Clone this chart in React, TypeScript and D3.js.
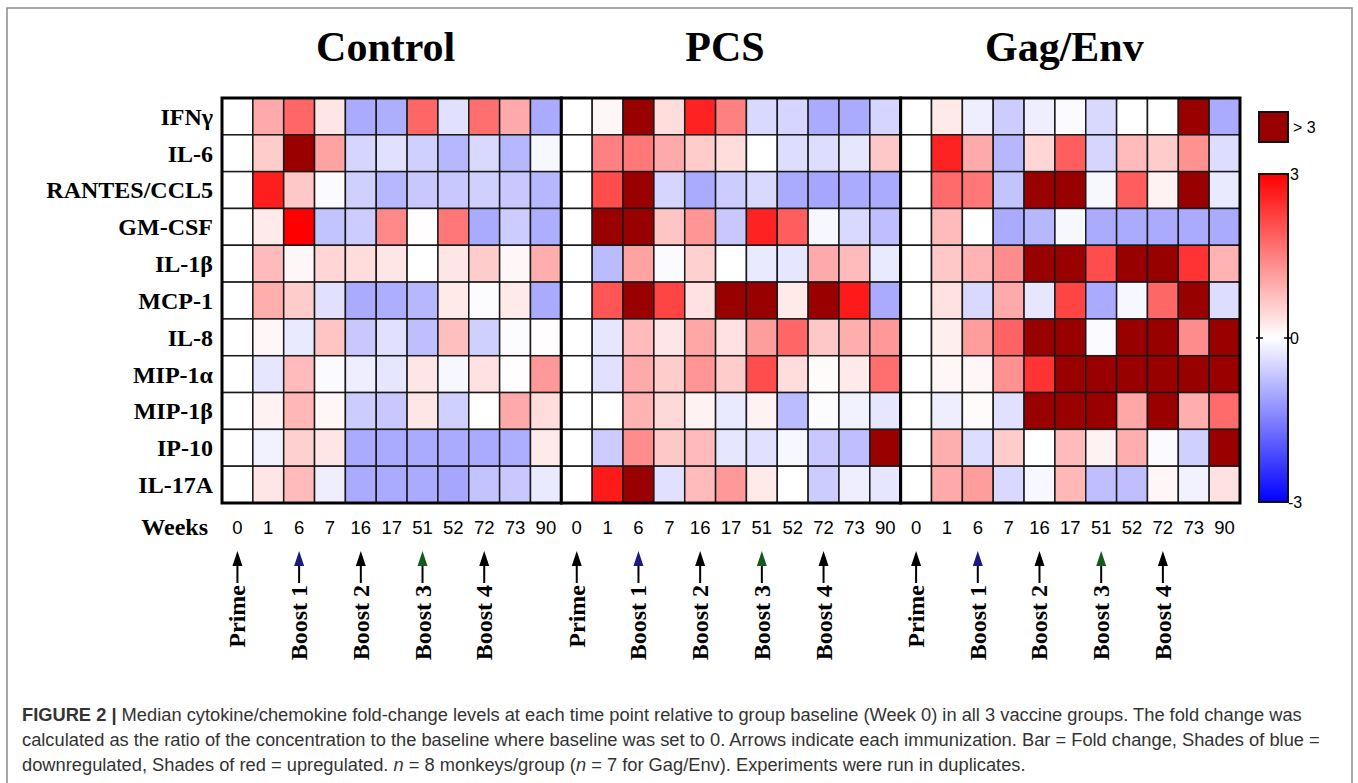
import { useEffect, useRef } from "react";
import * as d3 from "d3";

const groups = ["Control", "PCS", "Gag/Env"];
const weeks = ["0", "1", "6", "7", "16", "17", "51", "52", "72", "73", "90"];
const cytokines = ["IFNγ", "IL-6", "RANTES/CCL5", "GM-CSF", "IL-1β", "MCP-1", "IL-8", "MIP-1α", "MIP-1β", "IP-10", "IL-17A"];

// fold change, 4 = "> 3"
const controlValues = [
  [0, 1.0, 1.8, 0.3, -1.0, -0.95, 1.8, -0.35, 1.7, 1.0, -1.0],
  [0, 0.6, 4, 1.1, -0.5, -0.35, -0.55, -0.85, -0.45, -0.85, -0.1],
  [0, 2.65, 0.65, -0.05, -0.55, -0.85, -0.65, -0.65, -0.55, -0.65, -0.85],
  [0, 0.25, 3.0, -0.7, -0.6, 1.4, 0.02, 1.6, -1.0, -0.6, -0.95],
  [0, 0.8, 0.1, 0.5, 0.4, 0.3, 0, 0.3, 0.6, 0.1, 0.95],
  [0, 0.95, 0.6, -0.35, -1.0, -0.95, -0.85, 0.25, -0.03, 0.25, -1.0],
  [0, 0.1, -0.25, 0.7, -0.65, -0.35, -0.75, 0.75, -0.55, -0.03, 0.02],
  [0, -0.3, 0.8, -0.05, -0.2, -0.3, 0.3, -0.1, 0.35, 0.02, 1.2],
  [0, 0.15, 0.85, 0.1, -0.6, -0.65, 0.3, -0.55, 0, 1.0, 0.4],
  [0, -0.15, 0.55, 0.3, -1.0, -1.0, -1.0, -1.0, -1.0, -0.95, 0.25],
  [0, 0.3, 0.8, -0.2, -1.0, -1.0, -1.0, -1.05, -0.7, -0.65, -0.25],
];

const pcsValues = [
  [0, 0.1, 4, 0.4, 2.6, 1.5, -0.45, -0.5, -1.0, -1.0, -0.5],
  [0, 1.5, 1.6, 1.0, 0.6, 0.4, 0, -0.4, -0.4, -0.3, 0.65],
  [0, 2.1, 4, -0.5, -1.0, -0.6, -0.45, -1.0, -1.05, -1.0, -1.0],
  [0, 4, 4, 0.7, 1.25, -0.65, 2.6, 1.9, -0.1, -0.45, -0.75],
  [0, -0.8, 1.1, -0.05, 0.55, 0, -0.25, -0.3, 1.0, 0.8, -0.25],
  [0, 2.0, 4, 2.2, 0.35, 4, 4, 0.25, 4, 2.7, -1.0],
  [0, -0.3, 0.8, 0.3, 1.05, 0.35, 1.15, 1.8, 0.65, 0.95, 1.2],
  [0, -0.35, 1.0, 0.6, 1.25, 0.6, 2.1, 0.4, 0.05, 0.25, 1.7],
  [0, 0, 0.9, 0.45, 0.15, -0.25, 0.15, -0.8, -0.03, -0.15, -0.3],
  [0, -0.6, 1.35, 0.65, 0.8, -0.3, -0.35, -0.1, -0.65, -0.75, 4],
  [0, 2.7, 4, -0.35, 0.8, 1.2, 0.25, 0, -0.6, -0.2, -0.3],
];

const gagEnvValues = [
  [0, 0.25, -0.2, -0.6, -0.2, -0.05, -0.45, 0, 0, 4, -1.0],
  [0, 2.6, 1.0, -0.85, 0.5, 1.9, -0.5, 0.8, 0.6, 1.3, -0.4],
  [0, 1.75, 1.6, -0.7, 4, 4, -0.1, 1.9, 0.15, 4, -0.25],
  [0, 0.8, 0, -1.0, -0.85, -0.1, -1.0, -1.0, -1.0, -1.0, -1.0],
  [0, 0.65, 0.9, 1.35, 4, 4, 2.1, 4, 4, 2.4, 0.9],
  [0, 0.35, -0.45, 1.0, -0.3, 2.2, -1.0, -0.1, 1.8, 4, -0.4],
  [0, 0.2, 1.15, 1.85, 4, 4, -0.05, 4, 4, 1.35, 4],
  [0, 0.1, 0.1, 1.3, 2.4, 4, 4, 4, 4, 4, 4],
  [0, -0.2, 0.05, -0.35, 4, 4, 4, 1.05, 4, 0.95, 1.75],
  [0, 0.95, -0.4, 0.6, 0, 0.8, 0.15, 0.95, -0.05, -0.55, 4],
  [0, 1.0, 1.15, -0.45, -0.1, 0.85, -0.75, -0.75, 0.1, -0.15, 0.35],
];

const immunizations = [
  { week: "0", label: "Prime", head: "#000" },
  { week: "6", label: "Boost 1", head: "#1a1a80" },
  { week: "16", label: "Boost 2", head: "#000" },
  { week: "51", label: "Boost 3", head: "#145a1e" },
  { week: "72", label: "Boost 4", head: "#000" },
];

const legendTicks = [3, 0, -3];

const W = 1358;
const H = 783;
const serif = "'Liberation Serif', 'Times New Roman', serif";
const sans = "'Liberation Sans', Arial, sans-serif";

const HeatmapFigure = () => {
  const ref = useRef(null);

  useEffect(() => {
    if (!ref.current) return;
    const svg = d3.select(ref.current);
    svg.selectAll("*").remove();

    const left = 222;
    const right = 1240;
    const top = 98;
    const bottom = 503;

    const color = d3
      .scaleLinear<string>()
      .domain([-3, 0, 3])
      .range(["#0000ff", "#ffffff", "#ff0000"])
      .clamp(true);
    const fill = (v) => (v > 3 ? "#990000" : color(v));

    const panelX = d3.scaleBand().domain(groups).range([left, right]);
    const y = d3.scaleBand().domain(cytokines).range([top, bottom]);

    // outer frame
    svg
      .append("rect")
      .attr("x", 7)
      .attr("y", 8)
      .attr("width", 1345)
      .attr("height", 800)
      .attr("fill", "none")
      .attr("stroke", "#8a8a8a")
      .attr("stroke-width", 1.5);

    const allValues = [controlValues, pcsValues, gagEnvValues];

    groups.forEach((g, gi) => {
      const x0 = panelX(g);
      const x = d3
        .scaleBand()
        .domain(weeks)
        .range([x0, x0 + panelX.bandwidth()]);
      const panel = svg.append("g");

      // title
      panel
        .append("text")
        .attr("x", x0 + panelX.bandwidth() / 2 - 6)
        .attr("y", 61)
        .attr("text-anchor", "middle")
        .attr("font-family", serif)
        .attr("font-weight", "bold")
        .attr("font-size", 42)
        .text(g);

      // cells
      allValues[gi].forEach((row, ri) => {
        row.forEach((v, ci) => {
          panel
            .append("rect")
            .attr("x", x(weeks[ci]))
            .attr("y", y(cytokines[ri]))
            .attr("width", x.bandwidth())
            .attr("height", y.bandwidth())
            .attr("fill", fill(v))
            .attr("stroke", "#1a1a1a")
            .attr("stroke-width", 1.5);
        });
      });

      panel
        .append("rect")
        .attr("x", x0)
        .attr("y", top)
        .attr("width", panelX.bandwidth())
        .attr("height", bottom - top)
        .attr("fill", "none")
        .attr("stroke", "#000")
        .attr("stroke-width", 3);

      // week tick labels
      panel
        .selectAll("text.wk")
        .data(weeks)
        .join("text")
        .attr("class", "wk")
        .attr("x", (d) => x(d) + x.bandwidth() / 2)
        .attr("y", 534)
        .attr("text-anchor", "middle")
        .attr("font-family", sans)
        .attr("font-size", 18.5)
        .text((d) => d);

      // immunization arrows
      immunizations.forEach((im) => {
        const cx = x(im.week) + x.bandwidth() / 2;
        panel
          .append("line")
          .attr("x1", cx)
          .attr("x2", cx)
          .attr("y1", 560)
          .attr("y2", 583)
          .attr("stroke", "#000")
          .attr("stroke-width", 2);
        panel
          .append("path")
          .attr("d", `M${cx},551 L${cx - 5},566 L${cx + 5},566 Z`)
          .attr("fill", im.head);
        panel
          .append("text")
          .attr("transform", `translate(${cx + 8},585) rotate(-90)`)
          .attr("text-anchor", "end")
          .attr("font-family", serif)
          .attr("font-weight", "bold")
          .attr("font-size", 24)
          .text(im.label);
      });
    });

    // row labels
    svg
      .append("g")
      .selectAll("text")
      .data(cytokines)
      .join("text")
      .attr("x", 213)
      .attr("y", (d) => y(d) + y.bandwidth() / 2)
      .attr("dy", "0.35em")
      .attr("text-anchor", "end")
      .attr("font-family", serif)
      .attr("font-weight", "bold")
      .attr("font-size", 24)
      .text((d) => d);

    svg
      .append("text")
      .attr("x", 208)
      .attr("y", 535)
      .attr("text-anchor", "end")
      .attr("font-family", serif)
      .attr("font-weight", "bold")
      .attr("font-size", 24)
      .text("Weeks");

    // legend
    const lx = 1259;
    const lw = 29;
    svg
      .append("rect")
      .attr("x", lx)
      .attr("y", 112)
      .attr("width", lw)
      .attr("height", 30)
      .attr("fill", "#990000")
      .attr("stroke", "#111")
      .attr("stroke-width", 2);
    svg
      .append("text")
      .attr("x", lx + lw + 5)
      .attr("y", 133)
      .attr("font-family", sans)
      .attr("font-size", 16)
      .text("> 3");

    const ly = d3.scaleLinear().domain([3, -3]).range([174, 502]);
    const grad = svg
      .append("defs")
      .append("linearGradient")
      .attr("id", "fcgrad")
      .attr("x1", 0)
      .attr("x2", 0)
      .attr("y1", 0)
      .attr("y2", 1);
    d3.range(0, 1.0001, 0.1).forEach((t) => {
      grad
        .append("stop")
        .attr("offset", t)
        .attr("stop-color", color(3 - 6 * t));
    });
    svg
      .append("rect")
      .attr("x", lx)
      .attr("y", ly(3))
      .attr("width", lw)
      .attr("height", ly(-3) - ly(3))
      .attr("fill", "url(#fcgrad)")
      .attr("stroke", "#111")
      .attr("stroke-width", 2);
    svg
      .append("g")
      .selectAll("text")
      .data(legendTicks)
      .join("text")
      .attr("x", (d) => (d < 0 ? lx + lw : lx + lw + 2))
      .attr("y", (d) => ly(d))
      .attr("dy", "0.38em")
      .attr("font-family", sans)
      .attr("font-size", 16)
      .text((d) => String(d));
    [lx - 3, lx + lw - 4].forEach((tx) => {
      svg
        .append("line")
        .attr("x1", tx)
        .attr("x2", tx + 7)
        .attr("y1", ly(0))
        .attr("y2", ly(0))
        .attr("stroke", "#000")
        .attr("stroke-width", 1.5);
    });

    // caption
    const cap = svg
      .append("g")
      .attr("font-family", sans)
      .attr("font-size", 18.3)
      .attr("fill", "#333");
    const l1 = cap.append("text").attr("x", 22).attr("y", 721);
    l1.append("tspan").attr("font-weight", "bold").text("FIGURE 2 |");
    l1.append("tspan").text(
      " Median cytokine/chemokine fold-change levels at each time point relative to group baseline (Week 0) in all 3 vaccine groups. The fold change was"
    );
    cap
      .append("text")
      .attr("x", 22)
      .attr("y", 746)
      .text(
        "calculated as the ratio of the concentration to the baseline where baseline was set to 0. Arrows indicate each immunization. Bar = Fold change, Shades of blue ="
      );
    const l3 = cap.append("text").attr("x", 22).attr("y", 771);
    l3.append("tspan").text("downregulated, Shades of red = upregulated. ");
    l3.append("tspan").attr("font-style", "italic").text("n");
    l3.append("tspan").text(" = 8 monkeys/group (");
    l3.append("tspan").attr("font-style", "italic").text("n");
    l3.append("tspan").text(" = 7 for Gag/Env). Experiments were run in duplicates.");
  }, []);

  return (
    <svg
      ref={ref}
      width={W}
      height={H}
      style={{ position: "absolute", left: 0, top: 0, background: "#fff" }}
    ></svg>
  );
};

export default function App() {
  return <HeatmapFigure />;
}
